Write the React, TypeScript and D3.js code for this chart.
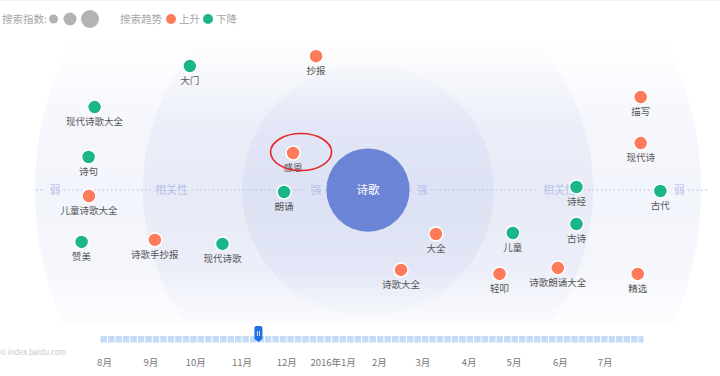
import React from "react";
import * as d3 from "d3";

const W = 720;
const H = 376;

// keyword data (relative position: x = relevance side, y = vertical spread)
const keywords = ["抄报", "大门", "现代诗歌大全", "诗句", "儿童诗歌大全", "赞美", "诗歌手抄报", "现代诗歌", "感恩", "朗诵", "大全", "诗歌大全", "儿童", "轻叩", "诗歌朗诵大全", "古诗", "诗经", "描写", "现代诗", "古代", "精选"];
const posX = [-15.6, -53.5, -82.1, -83.9, -83.8, -86, -64, -43.7, -22.5, -25.2, 20.4, 9.9, 43.5, 39.5, 57, 62.6, 62.6, 81.9, 81.9, 87.8, 81];
const posY = [40.2, 37.2, 24.9, 9.9, -1.8, -15.6, -15, -16.2, 11.1, -0.6, -13.2, -24, -12.9, -25.2, -23.4, -10.2, 0.9, 27.9, 14.1, -0.3, -25.2];
const trends = ["up", "down", "down", "down", "up", "down", "up", "down", "up", "down", "up", "up", "down", "up", "up", "down", "down", "up", "up", "down", "up"];
const highlighted = ["感恩"];

const centerWord = "诗歌";
const ringRadii = [100, 67.6, 37.8, 12.5]; // outer, middle, inner, core (in data units)
const axisLabels = ["弱", "相关性", "强", "强", "相关性", "弱"];
const axisLabelPos = [-94, -59, -15.6, 16.3, 57.5, 93.5];

const monthLabels = ["8月", "9月", "10月", "11月", "12月", "2016年1月", "2月", "3月", "4月", "5月", "6月", "7月"];
const monthDates = monthLabels.map((_, i) => new Date(2015, 7 + i, 1));
const timelineStart = new Date(2015, 6, 29);
const timelineEnd = new Date(2016, 6, 27);
const handleDate = new Date(2015, 10, 12);

const sizeLegend = [4.5, 6.5, 9];

const UP = "#fd7a5b";
const DOWN = "#1bb58a";
const FONT = "'Noto Sans CJK SC', 'Noto Sans', sans-serif";

export default function App() {
  const cx = 368;
  const cy = 190;
  const unit = 3.33;
  const x = d3.scaleLinear().domain([-100, 100]).range([cx - 100 * unit, cx + 100 * unit]);
  const y = d3.scaleLinear().domain([-100, 100]).range([cy + 100 * unit, cy - 100 * unit]);
  const r = (v: number) => v * unit;

  const t = d3.scaleTime().domain([new Date(2015, 7, 1), new Date(2016, 7, 1)]).range([104.5, 651.5]);
  const segs = d3.timeDay.range(timelineStart, timelineEnd, 5);
  const barY = 336;
  const barH = 6.5;
  const hx = t(handleDate);

  const ringFills = ["#f3f5fc", "#e8ebf7", "#dde2f4"];

  // axis dotted line broken around labels
  const lineStart = 37;
  const lineEnd = 707;
  const gaps = axisLabels.map((a, i) => {
    const w = a.length * 11 + 8;
    return [x(axisLabelPos[i]) - w / 2, x(axisLabelPos[i]) + w / 2];
  });
  const pieces: [number, number][] = [];
  let cur = lineStart;
  gaps.forEach(([g0, g1]) => {
    pieces.push([cur, g0]);
    cur = g1;
  });
  pieces.push([cur, lineEnd]);

  return (
    <svg width={W} height={H} style={{ position: "absolute", left: 0, top: 0, fontFamily: FONT }}>
      <defs>
        <linearGradient id="maskGrad" x1="0" y1="40" x2="0" y2="324" gradientUnits="userSpaceOnUse">
          <stop offset="0" stopColor="#fff" stopOpacity="0" />
          <stop offset="0.3" stopColor="#fff" stopOpacity="0.85" />
          <stop offset="0.55" stopColor="#fff" stopOpacity="1" />
          <stop offset="0.8" stopColor="#fff" stopOpacity="0.85" />
          <stop offset="1" stopColor="#fff" stopOpacity="0.15" />
        </linearGradient>
        <mask id="ringMask" maskUnits="userSpaceOnUse" x="0" y="0" width={W} height={H}>
          <rect x="0" y="40" width={W} height="284" fill="url(#maskGrad)" />
        </mask>
        <clipPath id="plotClip">
          <rect x="0" y="40" width={W} height="284" />
        </clipPath>
      </defs>

      <rect x="0" y="0" width={W} height={H} fill="#fff" />
      <line x1="0" x2={W} y1="0.5" y2="0.5" stroke="#eef0f5" />

      {/* legend */}
      <text x="2" y="23" fontSize="10.5" fill="#a6a6a6">搜索指数:</text>
      {sizeLegend.map((s, i) => (
        <circle key={i} cx={[53.5, 70, 90][i]} cy={19} r={s} fill="#b3b3b3" />
      ))}
      <text x="120" y="23" fontSize="10.5" fill="#a6a6a6">搜索趋势</text>
      <circle cx="171" cy="19" r="5" fill={UP} />
      <text x="179" y="23" fontSize="10.5" fill="#a6a6a6">上升</text>
      <circle cx="208" cy="19" r="5" fill={DOWN} />
      <text x="216" y="23" fontSize="10.5" fill="#a6a6a6">下降</text>

      {/* rings */}
      <g clipPath="url(#plotClip)" mask="url(#ringMask)">
        {ringRadii.slice(0, 3).map((rr, i) => (
          <circle key={i} cx={x(0)} cy={y(0)} r={r(rr)} fill={ringFills[i]} />
        ))}
      </g>

      {/* relevance axis */}
      {pieces.map(([a, b], i) => (
        <line key={i} x1={a} x2={b} y1={y(0)} y2={y(0)} stroke="#bcc5ea" strokeWidth="1.6" strokeDasharray="0.1 4.2" strokeLinecap="round" />
      ))}
      {axisLabels.map((a, i) => (
        <text key={i} x={x(axisLabelPos[i])} y={y(0) + 4} fontSize="11" fill="#b7c1ea" textAnchor="middle">{a}</text>
      ))}

      {/* center */}
      <circle cx={x(0)} cy={y(0)} r={r(ringRadii[3])} fill="#6b84d6" />
      <text x={x(0)} y={y(0) + 4} fontSize="11.5" fill="#fff" textAnchor="middle">{centerWord}</text>

      {/* keywords */}
      {keywords.map((k, i) => (
        <g key={k}>
          <circle cx={x(posX[i])} cy={y(posY[i])} r={7} fill={trends[i] === "up" ? UP : DOWN} stroke="#fff" strokeWidth="1.5" />
          <text x={x(posX[i])} y={y(posY[i]) + 18} fontSize="9.5" fill="#555" textAnchor="middle">{k}</text>
        </g>
      ))}
      {keywords.map((k, i) =>
        highlighted.includes(k) ? (
          <ellipse key={"h" + k} cx={x(posX[i]) + 8} cy={y(posY[i]) - 1} rx={30.5} ry={18.5} fill="none" stroke="#e8262a" strokeWidth="1.6" />
        ) : null
      )}

      {/* watermark */}
      <text x="0" y="355" fontSize="7.5" fill="#c8c8c8">© index.baidu.com</text>

      {/* timeline */}
      {segs.map((d, i) => {
        const x0 = t(d);
        const next = d3.timeDay.offset(d, 5);
        const x1 = t(next > timelineEnd ? timelineEnd : next);
        return <rect key={i} x={x0 + 0.5} y={barY} width={Math.max(0, x1 - x0 - 1)} height={barH} fill="#c6dbf8" />;
      })}
      <g transform={`translate(${hx},0)`}>
        <path d="M-4,328 a2,2 0 0 1 2,-2 h4 a2,2 0 0 1 2,2 v11 l-4,3 l-4,-3 z" fill="#1f6fe5" />
        <line x1="-1" x2="-1" y1="331" y2="336" stroke="#fff" strokeWidth="0.8" />
        <line x1="1" x2="1" y1="331" y2="336" stroke="#fff" strokeWidth="0.8" />
      </g>
      {monthLabels.map((m, i) => (
        <text key={m} x={t(monthDates[i])} y="366" fontSize="9.5" fill="#777" textAnchor="middle">{m}</text>
      ))}
    </svg>
  );
}
